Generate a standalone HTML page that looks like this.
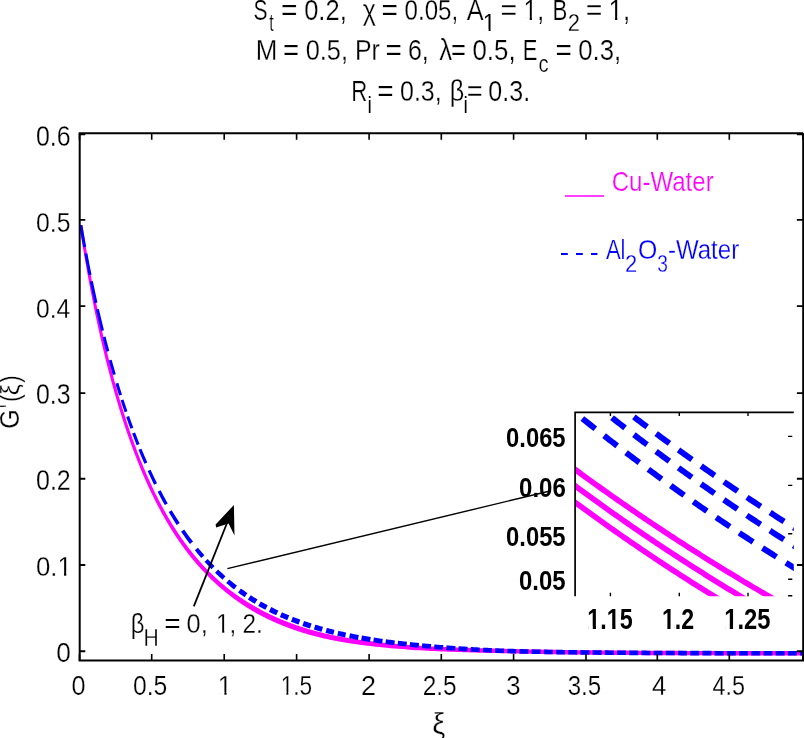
<!DOCTYPE html>
<html><head><meta charset="utf-8"><title>Chart</title>
<style>html,body{margin:0;padding:0;background:#fff;}body{width:804px;height:738px;overflow:hidden;font-family:"Liberation Sans",sans-serif;}svg{display:block;filter:blur(0.4px);}</style>
</head><body>
<svg width="804" height="738" viewBox="0 0 804 738" font-family="'Liberation Sans', sans-serif">
<rect width="804" height="738" fill="#fff"/>
<path d="M79.39,225.44 L80.35,231.64 L81.32,237.72 L82.28,243.68 L83.24,249.51 L84.21,255.24 L85.17,260.85 L86.13,266.36 L87.09,271.76 L88.06,277.07 L89.02,282.28 L89.98,287.39 L90.95,292.42 L91.91,297.35 L92.87,302.20 L93.84,306.97 L94.80,311.65 L95.76,316.26 L96.73,320.79 L97.69,325.24 L98.65,329.62 L99.62,333.94 L100.58,338.18 L101.54,342.35 L102.51,346.46 L103.47,350.50 L104.43,354.48 L105.40,358.40 L106.36,362.26 L107.32,366.06 L108.29,369.81 L109.25,373.49 L110.22,377.12 L111.18,380.70 L112.14,384.23 L113.11,387.70 L114.07,391.12 L115.03,394.49 L116.00,397.82 L116.96,401.09 L117.93,404.32 L118.89,407.50 L119.85,410.64 L120.82,413.73 L121.78,416.78 L122.74,419.79 L123.70,422.76 L124.66,425.68 L125.63,428.57 L126.59,431.41 L127.55,434.22 L128.51,436.99 L129.47,439.72 L130.43,442.41 L131.39,445.06 L132.36,447.68 L133.32,450.27 L134.28,452.82 L135.24,455.34 L136.20,457.82 L137.16,460.27 L138.13,462.69 L139.09,465.07 L140.05,467.42 L141.01,469.75 L141.97,472.04 L142.94,474.30 L143.90,476.53 L144.86,478.74 L145.82,480.91 L146.79,483.06 L147.75,485.18 L148.71,487.27 L149.68,489.33 L150.64,491.37 L151.60,493.38 L152.56,495.37 L153.53,497.33 L154.49,499.27 L155.45,501.18 L156.42,503.06 L157.38,504.93 L158.34,506.77 L159.31,508.58 L160.27,510.37 L161.24,512.14 L162.20,513.89 L163.16,515.62 L164.13,517.32 L165.09,519.00 L166.05,520.67 L167.02,522.31 L167.98,523.93 L168.94,525.53 L169.90,527.12 L170.86,528.68 L171.83,530.22 L172.79,531.74 L173.75,533.25 L174.71,534.74 L175.68,536.20 L176.64,537.65 L177.60,539.09 L178.57,540.50 L179.53,541.90 L180.49,543.28 L181.46,544.64 L182.42,545.99 L183.38,547.32 L184.35,548.63 L185.31,549.93 L186.28,551.21 L187.24,552.48 L188.21,553.73 L189.17,554.96 L190.14,556.19 L191.10,557.39 L192.07,558.58 L193.03,559.76 L194.00,560.92 L194.96,562.07 L195.93,563.21 L196.89,564.33 L197.86,565.44 L198.82,566.53 L199.79,567.61 L200.76,568.68 L201.72,569.74 L202.69,570.78 L203.65,571.81 L204.62,572.83 L205.59,573.84 L206.55,574.83 L207.52,575.81 L208.49,576.78 L209.46,577.74 L210.42,578.69 L211.39,579.63 L212.36,580.55 L213.32,581.47 L214.29,582.37 L215.26,583.27 L216.23,584.15 L217.20,585.02 L218.16,585.88 L219.13,586.74 L220.10,587.58 L221.07,588.41 L222.04,589.23 L223.00,590.05 L223.97,590.86 L224.93,591.66 L225.90,592.44 L226.86,593.23 L227.83,594.00 L228.79,594.76 L229.76,595.51 L230.73,596.26 L231.69,597.00 L232.66,597.72 L233.62,598.44 L234.59,599.16 L235.56,599.86 L236.52,600.56 L237.49,601.24 L238.46,601.92 L239.42,602.60 L240.39,603.26 L241.36,603.92 L242.32,604.57 L243.29,605.21 L244.26,605.85 L245.22,606.48 L246.19,607.10 L247.16,607.71 L248.13,608.32 L249.09,608.92 L250.06,609.51 L251.03,610.10 L252.00,610.68 L252.97,611.24 L253.95,611.80 L254.92,612.35 L255.90,612.89 L256.87,613.43 L257.85,613.96 L258.82,614.48 L259.79,615.00 L260.77,615.51 L261.74,616.02 L262.72,616.52 L263.69,617.02 L264.67,617.51 L265.64,617.99 L266.61,618.47 L267.59,618.94 L268.56,619.41 L269.54,619.87 L270.51,620.33 L271.48,620.78 L272.46,621.23 L273.43,621.67 L274.40,622.10 L275.38,622.53 L276.35,622.96 L277.32,623.38 L278.30,623.79 L279.27,624.20 L280.25,624.61 L281.22,625.01 L282.19,625.41 L283.17,625.80 L284.14,626.18 L285.11,626.57 L286.08,626.94 L287.06,627.32 L288.03,627.68 L289.00,628.05 L289.98,628.41 L290.95,628.76 L291.92,629.11 L292.90,629.46 L293.87,629.80 L294.84,630.14 L295.81,630.47 L296.79,630.80 L297.76,631.13 L298.73,631.45 L299.71,631.76 L300.68,632.08 L301.65,632.39 L302.62,632.69 L303.59,632.99 L304.57,633.29 L305.54,633.58 L306.51,633.87 L307.48,634.16 L308.46,634.44 L309.43,634.72 L310.40,634.99 L311.37,635.26 L312.35,635.52 L313.32,635.78 L314.29,636.04 L315.26,636.29 L316.24,636.54 L317.21,636.79 L318.18,637.03 L319.15,637.27 L320.13,637.51 L321.10,637.74 L322.07,637.97 L323.04,638.20 L324.01,638.42 L324.98,638.64 L325.96,638.86 L326.93,639.07 L327.90,639.28 L328.87,639.49 L329.84,639.69 L330.81,639.90 L331.78,640.09 L332.75,640.29 L333.72,640.48 L334.70,640.67 L335.67,640.86 L336.64,641.05 L337.61,641.23 L338.58,641.41 L339.55,641.58 L340.52,641.76 L341.49,641.93 L342.46,642.10 L343.43,642.27 L344.40,642.43 L345.37,642.59 L346.34,642.75 L347.31,642.91 L348.27,643.07 L349.24,643.22 L350.21,643.37 L351.18,643.52 L352.15,643.67 L353.12,643.81 L354.09,643.95 L355.06,644.09 L356.03,644.23 L356.99,644.37 L357.96,644.50 L358.93,644.64 L359.90,644.77 L360.87,644.90 L361.83,645.02 L362.80,645.15 L363.77,645.27 L364.74,645.40 L365.71,645.52 L366.67,645.64 L367.64,645.75 L368.61,645.87 L372.28,646.30 L375.96,646.70 L379.63,647.09 L383.30,647.46 L386.97,647.81 L390.64,648.15 L394.31,648.48 L397.98,648.79 L401.66,649.09 L405.33,649.37 L409.00,649.64 L412.67,649.89 L416.34,650.13 L420.00,650.35 L423.67,650.56 L427.34,650.76 L431.01,650.94 L434.67,651.12 L438.34,651.29 L442.00,651.44 L445.67,651.59 L449.33,651.73 L453.00,651.87 L456.66,651.99 L460.33,652.11 L463.99,652.23 L467.65,652.34 L471.32,652.44 L474.98,652.55 L478.64,652.64 L482.30,652.74 L485.97,652.83 L489.63,652.91 L493.29,653.00 L496.95,653.08 L500.61,653.16 L504.27,653.24 L507.93,653.32 L511.59,653.39 L515.25,653.47 L518.91,653.55 L522.57,653.63 L526.23,653.71 L529.90,653.79 L533.56,653.86 L537.22,653.94 L540.88,654.01 L544.54,654.07 L548.21,654.14 L551.87,654.20 L555.53,654.26 L559.19,654.31 L562.85,654.37 L566.51,654.42 L570.17,654.47 L573.84,654.52 L577.50,654.56 L581.16,654.60 L584.82,654.65 L588.48,654.68 L592.14,654.72 L595.80,654.76 L599.46,654.79 L603.12,654.83 L606.79,654.86 L610.45,654.89 L614.11,654.92 L617.77,654.95 L621.43,654.97 L625.09,655.00 L628.75,655.02 L632.41,655.05 L636.07,655.07 L639.73,655.09 L643.39,655.11 L647.05,655.13 L650.71,655.15 L654.37,655.17 L658.03,655.18 L661.70,655.20 L665.36,655.22 L669.02,655.23 L672.68,655.24 L676.34,655.26 L680.00,655.27 L683.66,655.28 L687.32,655.30 L690.98,655.31 L694.64,655.32 L698.30,655.33 L701.96,655.34 L705.62,655.35 L709.28,655.36 L712.94,655.37 L716.60,655.38 L720.26,655.38 L723.92,655.39 L727.58,655.40 L731.24,655.41 L734.90,655.41 L738.56,655.42 L742.22,655.43 L745.88,655.43 L749.54,655.44 L753.20,655.44 L756.86,655.45 L760.52,655.45 L764.18,655.46 L767.84,655.46 L771.50,655.47 L775.16,655.47 L778.82,655.48 L782.48,655.48 L786.14,655.48 L789.80,655.49 L793.46,655.49 L797.12,655.49 L800.79,655.50 L804.45,655.50 L804.45,651.10 L800.79,651.10 L797.13,651.09 L793.47,651.09 L789.81,651.09 L786.15,651.08 L782.49,651.08 L778.83,651.08 L775.17,651.07 L771.51,651.07 L767.85,651.06 L764.19,651.06 L760.53,651.05 L756.87,651.05 L753.21,651.04 L749.55,651.04 L745.89,651.03 L742.23,651.03 L738.57,651.02 L734.91,651.01 L731.25,651.01 L727.59,651.00 L723.93,650.99 L720.27,650.98 L716.61,650.98 L712.95,650.97 L709.29,650.96 L705.63,650.95 L701.97,650.94 L698.31,650.93 L694.65,650.92 L690.99,650.91 L687.33,650.90 L683.67,650.88 L680.01,650.87 L676.35,650.86 L672.69,650.84 L669.03,650.83 L665.37,650.82 L661.71,650.80 L658.05,650.78 L654.40,650.77 L650.74,650.75 L647.08,650.73 L643.42,650.71 L639.76,650.69 L636.10,650.67 L632.44,650.65 L628.78,650.62 L625.12,650.60 L621.46,650.57 L617.80,650.55 L614.14,650.52 L610.48,650.49 L606.82,650.46 L603.16,650.43 L599.50,650.39 L595.84,650.36 L592.19,650.32 L588.53,650.29 L584.87,650.25 L581.21,650.20 L577.55,650.16 L573.89,650.12 L570.23,650.07 L566.57,650.02 L562.91,649.97 L559.26,649.91 L555.60,649.86 L551.94,649.80 L548.28,649.74 L544.62,649.68 L540.96,649.61 L537.31,649.54 L533.65,649.47 L529.99,649.39 L526.33,649.31 L522.67,649.23 L519.01,649.15 L515.35,649.07 L511.69,648.99 L508.03,648.91 L504.37,648.82 L500.71,648.74 L497.05,648.65 L493.39,648.56 L489.74,648.47 L486.08,648.38 L482.42,648.28 L478.76,648.18 L475.10,648.08 L471.45,647.97 L467.79,647.86 L464.13,647.75 L460.48,647.63 L456.82,647.50 L453.16,647.36 L449.51,647.23 L445.85,647.08 L442.20,646.92 L438.54,646.76 L434.89,646.59 L431.24,646.41 L427.58,646.21 L423.93,646.01 L420.28,645.80 L416.63,645.57 L412.97,645.33 L409.32,645.07 L405.67,644.80 L402.03,644.51 L398.38,644.20 L394.73,643.87 L391.08,643.52 L387.43,643.16 L383.78,642.79 L380.13,642.39 L376.48,641.98 L372.84,641.55 L369.19,641.10 L368.23,640.98 L367.27,640.86 L366.31,640.73 L365.36,640.61 L364.40,640.48 L363.44,640.35 L362.48,640.22 L361.52,640.09 L360.56,639.95 L359.60,639.82 L358.65,639.68 L357.69,639.54 L356.73,639.40 L355.77,639.25 L354.81,639.11 L353.86,638.96 L352.90,638.81 L351.94,638.66 L350.98,638.50 L350.02,638.35 L349.07,638.19 L348.11,638.03 L347.15,637.87 L346.20,637.70 L345.24,637.54 L344.28,637.37 L343.32,637.20 L342.37,637.02 L341.41,636.85 L340.45,636.67 L339.50,636.49 L338.54,636.30 L337.59,636.12 L336.63,635.93 L335.67,635.74 L334.72,635.54 L333.76,635.35 L332.81,635.15 L331.85,634.94 L330.90,634.74 L329.94,634.53 L328.98,634.32 L328.03,634.11 L327.07,633.89 L326.12,633.67 L325.16,633.45 L324.21,633.22 L323.25,632.99 L322.30,632.76 L321.35,632.52 L320.39,632.28 L319.44,632.04 L318.48,631.80 L317.53,631.55 L316.57,631.30 L315.62,631.04 L314.67,630.78 L313.71,630.52 L312.76,630.25 L311.80,629.99 L310.85,629.72 L309.90,629.44 L308.94,629.17 L307.99,628.89 L307.03,628.60 L306.08,628.31 L305.12,628.02 L304.17,627.73 L303.22,627.43 L302.26,627.12 L301.31,626.82 L300.35,626.51 L299.40,626.19 L298.45,625.87 L297.49,625.55 L296.54,625.22 L295.58,624.89 L294.63,624.56 L293.68,624.22 L292.72,623.87 L291.77,623.53 L290.82,623.17 L289.86,622.82 L288.91,622.46 L287.95,622.09 L287.00,621.72 L286.05,621.35 L285.09,620.97 L284.14,620.59 L283.19,620.20 L282.24,619.81 L281.28,619.41 L280.33,619.01 L279.38,618.60 L278.42,618.19 L277.47,617.77 L276.52,617.35 L275.56,616.92 L274.61,616.49 L273.66,616.06 L272.71,615.61 L271.75,615.17 L270.80,614.72 L269.85,614.26 L268.89,613.80 L267.94,613.33 L266.99,612.86 L266.04,612.38 L265.08,611.89 L264.13,611.40 L263.18,610.91 L262.23,610.41 L261.28,609.90 L260.32,609.39 L259.37,608.87 L258.42,608.34 L257.47,607.81 L256.51,607.27 L255.56,606.73 L254.61,606.18 L253.65,605.64 L252.69,605.08 L251.73,604.53 L250.78,603.96 L249.82,603.39 L248.86,602.81 L247.90,602.23 L246.94,601.64 L245.98,601.04 L245.02,600.43 L244.06,599.82 L243.10,599.20 L242.14,598.57 L241.18,597.93 L240.22,597.29 L239.26,596.64 L238.30,595.98 L237.34,595.31 L236.38,594.64 L235.42,593.96 L234.46,593.26 L233.50,592.56 L232.54,591.86 L231.58,591.14 L230.61,590.41 L229.65,589.68 L228.69,588.93 L227.73,588.18 L226.77,587.42 L225.81,586.65 L224.85,585.87 L223.89,585.07 L222.93,584.27 L221.97,583.45 L221.01,582.63 L220.06,581.79 L219.10,580.95 L218.14,580.09 L217.18,579.23 L216.22,578.35 L215.26,577.47 L214.30,576.57 L213.34,575.66 L212.38,574.74 L211.42,573.81 L210.46,572.87 L209.50,571.91 L208.54,570.95 L207.58,569.97 L206.62,568.98 L205.66,567.98 L204.70,566.96 L203.74,565.94 L202.78,564.89 L201.82,563.84 L200.86,562.78 L199.90,561.70 L198.94,560.60 L197.98,559.49 L197.02,558.37 L196.06,557.24 L195.10,556.09 L194.13,554.93 L193.17,553.75 L192.21,552.55 L191.25,551.35 L190.29,550.12 L189.32,548.88 L188.36,547.63 L187.40,546.36 L186.44,545.07 L185.47,543.77 L184.51,542.45 L183.55,541.11 L182.58,539.76 L181.62,538.39 L180.66,537.00 L179.69,535.59 L178.73,534.17 L177.77,532.73 L176.80,531.27 L175.84,529.79 L174.88,528.29 L173.91,526.77 L172.95,525.23 L171.98,523.68 L171.02,522.10 L170.05,520.50 L169.09,518.89 L168.12,517.25 L167.16,515.59 L166.20,513.90 L165.24,512.20 L164.27,510.47 L163.31,508.72 L162.35,506.95 L161.38,505.15 L160.42,503.34 L159.46,501.49 L158.50,499.63 L157.53,497.74 L156.57,495.82 L155.61,493.88 L154.64,491.91 L153.68,489.92 L152.71,487.90 L151.75,485.86 L150.79,483.78 L149.82,481.68 L148.86,479.55 L147.90,477.40 L146.93,475.21 L145.97,473.00 L145.00,470.75 L144.04,468.48 L143.07,466.17 L142.11,463.84 L141.14,461.47 L140.18,459.07 L139.22,456.64 L138.25,454.17 L137.29,451.67 L136.32,449.14 L135.36,446.57 L134.39,443.97 L133.43,441.33 L132.46,438.65 L131.50,435.94 L130.53,433.18 L129.57,430.39 L128.60,427.57 L127.63,424.70 L126.67,421.79 L125.70,418.84 L124.74,415.84 L123.77,412.81 L122.81,409.72 L121.85,406.60 L120.89,403.43 L119.92,400.21 L118.96,396.95 L118.00,393.64 L117.04,390.28 L116.07,386.87 L115.11,383.41 L114.15,379.89 L113.18,376.33 L112.22,372.71 L111.26,369.03 L110.30,365.30 L109.33,361.51 L108.37,357.67 L107.41,353.76 L106.44,349.79 L105.48,345.76 L104.52,341.66 L103.55,337.50 L102.59,333.26 L101.63,328.96 L100.66,324.59 L99.70,320.15 L98.74,315.63 L97.78,311.03 L96.81,306.36 L95.85,301.60 L94.88,296.76 L93.92,291.84 L92.96,286.83 L91.99,281.72 L91.03,276.52 L90.07,271.23 L89.10,265.83 L88.14,260.34 L87.18,254.73 L86.21,249.02 L85.25,243.19 L84.29,237.24 L83.32,231.18 L82.36,224.98Z" fill="#ff00ff"/>
<path d="M79.40,225.61 L80.67,233.03 L81.93,240.26 L83.20,247.29 L86.16,246.76 L84.89,239.73 L83.62,232.52 L82.35,225.10Z M84.39,253.69 L85.44,259.25 L86.49,264.71 L87.54,270.06 L88.59,275.30 L91.53,274.71 L90.48,269.47 L89.43,264.13 L88.39,258.69 L87.34,253.14Z M89.90,281.68 L91.05,287.22 L92.21,292.65 L93.37,297.98 L94.52,303.21 L97.45,302.56 L96.30,297.34 L95.14,292.02 L93.99,286.60 L92.83,281.07Z M95.96,309.56 L97.23,315.07 L98.50,320.48 L99.78,325.79 L101.05,330.99 L103.96,330.27 L102.69,325.08 L101.42,319.79 L100.15,314.39 L98.88,308.89Z M102.63,337.31 L103.89,342.24 L105.14,347.08 L106.40,351.84 L109.30,351.07 L108.05,346.32 L106.79,341.49 L105.53,336.57Z M108.76,360.54 L109.79,364.23 L110.81,367.87 L111.84,371.45 L112.86,374.99 L115.74,374.15 L114.72,370.62 L113.70,367.05 L112.68,363.42 L111.65,359.74Z M115.43,383.64 L116.66,387.68 L117.90,391.67 L119.13,395.59 L121.99,394.69 L120.76,390.78 L119.53,386.80 L118.30,382.76Z M120.66,400.37 L121.97,404.39 L123.29,408.36 L124.60,412.25 L127.46,411.28 L126.15,407.40 L124.83,403.45 L123.51,399.43Z M126.22,416.99 L127.27,420.00 L128.32,422.97 L129.37,425.90 L130.42,428.79 L133.32,427.73 L132.26,424.85 L131.21,421.94 L130.15,418.98 L129.09,415.99Z M132.16,433.49 L133.29,436.48 L134.41,439.42 L135.54,442.32 L136.66,445.18 L139.58,444.03 L138.45,441.18 L137.32,438.29 L136.19,435.37 L135.06,432.40Z M138.53,449.84 L139.99,453.40 L141.44,456.89 L142.90,460.33 L144.36,463.70 L147.30,462.42 L145.84,459.06 L144.38,455.66 L142.91,452.18 L141.45,448.64Z M147.63,471.04 L148.91,473.84 L150.19,476.60 L151.48,479.32 L152.77,482.00 L154.05,484.63 L157.01,483.18 L155.72,480.56 L154.44,477.91 L153.15,475.21 L151.86,472.47 L150.57,469.68Z M157.66,491.82 L159.09,494.56 L160.51,497.26 L161.93,499.91 L163.36,502.52 L164.78,505.08 L167.75,503.42 L166.32,500.88 L164.90,498.30 L163.47,495.67 L162.05,493.00 L160.62,490.28Z M168.77,512.07 L170.34,514.73 L171.92,517.35 L173.50,519.92 L175.07,522.44 L176.65,524.91 L179.71,522.93 L178.12,520.49 L176.53,518.01 L174.94,515.49 L173.35,512.91 L171.76,510.28Z M181.09,531.63 L182.55,533.76 L184.01,535.86 L185.48,537.92 L186.94,539.95 L188.41,541.94 L189.87,543.89 L192.99,541.53 L191.52,539.61 L190.05,537.66 L188.58,535.67 L187.11,533.65 L185.64,531.60 L184.16,529.50Z M194.82,550.27 L196.11,551.86 L197.39,553.43 L198.68,554.98 L199.97,556.51 L201.26,558.00 L204.39,555.27 L203.10,553.81 L201.81,552.32 L200.52,550.82 L199.23,549.28 L197.94,547.72Z M204.60,561.80 L205.98,563.31 L207.35,564.81 L208.73,566.28 L210.11,567.73 L211.49,569.15 L214.60,566.08 L213.22,564.70 L211.85,563.29 L210.47,561.87 L209.09,560.42 L207.71,558.94Z M215.06,572.73 L216.53,574.16 L218.00,575.56 L219.47,576.95 L220.94,578.31 L222.41,579.64 L225.47,576.21 L224.00,574.92 L222.54,573.61 L221.07,572.27 L219.61,570.92 L218.14,569.53Z M226.21,582.99 L227.77,584.31 L229.33,585.62 L230.89,586.90 L232.45,588.16 L234.00,589.40 L236.97,585.58 L235.42,584.39 L233.87,583.18 L232.32,581.95 L230.77,580.70 L229.22,579.41Z M238.03,592.49 L239.33,593.46 L240.65,594.42 L241.96,595.36 L243.27,596.30 L244.58,597.21 L247.44,593.04 L246.13,592.16 L244.83,591.28 L243.53,590.37 L242.24,589.45 L240.93,588.52Z M247.94,599.50 L249.29,600.39 L250.65,601.28 L252.02,602.15 L253.39,603.00 L254.75,603.83 L257.45,599.39 L256.11,598.57 L254.77,597.74 L253.43,596.91 L252.08,596.07 L250.73,595.20Z M258.24,605.90 L259.65,606.71 L261.06,607.51 L262.48,608.30 L263.89,609.08 L265.30,609.83 L267.76,605.26 L266.37,604.51 L264.99,603.75 L263.61,602.98 L262.23,602.20 L260.84,601.40Z M268.90,611.72 L270.34,612.45 L271.79,613.18 L273.24,613.89 L274.70,614.59 L276.14,615.27 L278.37,610.58 L276.94,609.90 L275.52,609.21 L274.10,608.52 L272.68,607.81 L271.25,607.08Z M279.83,616.97 L281.30,617.63 L282.79,618.28 L284.27,618.92 L285.76,619.55 L287.23,620.17 L289.23,615.37 L287.77,614.76 L286.32,614.14 L284.86,613.52 L283.41,612.88 L281.95,612.22Z M290.99,621.69 L292.50,622.28 L294.01,622.86 L295.52,623.43 L297.03,623.99 L298.53,624.54 L300.31,619.66 L298.82,619.11 L297.34,618.56 L295.86,618.00 L294.38,617.43 L292.89,616.85Z M302.35,625.89 L303.88,626.42 L305.41,626.93 L306.94,627.44 L308.47,627.94 L310.00,628.43 L311.58,623.47 L310.07,622.99 L308.56,622.50 L307.05,622.00 L305.55,621.49 L304.04,620.98Z M313.86,629.61 L315.41,630.07 L316.96,630.53 L318.51,630.97 L320.06,631.41 L321.60,631.83 L322.99,626.87 L321.45,626.44 L319.93,626.01 L318.41,625.56 L316.88,625.11 L315.35,624.65Z M325.51,632.88 L327.06,633.28 L328.63,633.68 L330.19,634.07 L331.75,634.45 L333.31,634.83 L334.51,629.88 L332.97,629.50 L331.43,629.11 L329.89,628.72 L328.35,628.32 L326.80,627.91Z M337.24,635.74 L338.81,636.10 L340.38,636.44 L341.96,636.79 L343.53,637.12 L345.10,637.45 L346.14,632.52 L344.58,632.18 L343.03,631.85 L341.48,631.50 L339.93,631.15 L338.37,630.79Z M349.05,638.25 L350.53,638.54 L352.01,638.83 L353.49,639.11 L354.97,639.38 L356.46,639.65 L357.93,639.92 L358.83,635.02 L357.36,634.75 L355.89,634.47 L354.43,634.19 L352.96,633.91 L351.50,633.62 L350.03,633.32Z M361.11,640.47 L362.59,640.72 L364.08,640.97 L365.57,641.22 L367.06,641.46 L368.54,641.69 L370.03,641.92 L370.79,637.06 L369.32,636.82 L367.85,636.58 L366.37,636.34 L364.90,636.09 L363.43,635.84 L361.95,635.58Z M373.21,642.40 L374.70,642.62 L376.19,642.84 L377.68,643.05 L379.17,643.26 L380.66,643.46 L382.15,643.66 L382.81,638.84 L381.33,638.63 L379.85,638.42 L378.37,638.21 L376.90,637.99 L375.42,637.77 L373.94,637.55Z M385.34,644.08 L386.83,644.27 L388.33,644.46 L389.82,644.64 L391.32,644.82 L392.81,645.00 L394.30,645.17 L394.87,640.39 L393.38,640.21 L391.90,640.03 L390.42,639.84 L388.94,639.65 L387.45,639.46 L385.97,639.27Z M397.50,645.53 L398.99,645.70 L400.48,645.87 L401.98,646.03 L403.47,646.19 L404.97,646.35 L406.46,646.51 L406.97,641.75 L405.48,641.59 L403.99,641.43 L402.50,641.27 L401.01,641.10 L399.52,640.93 L398.03,640.76Z M409.65,646.84 L411.14,646.99 L412.64,647.14 L414.13,647.29 L415.63,647.44 L417.13,647.59 L418.62,647.73 L419.08,642.99 L417.59,642.84 L416.10,642.70 L414.61,642.55 L413.12,642.39 L411.63,642.24 L410.14,642.09Z M421.81,648.03 L423.31,648.17 L424.81,648.31 L426.30,648.44 L427.80,648.57 L429.30,648.70 L430.79,648.83 L431.20,644.11 L429.71,643.98 L428.22,643.84 L426.73,643.71 L425.24,643.57 L423.75,643.43 L422.26,643.29Z M433.99,649.10 L435.49,649.23 L436.98,649.35 L438.48,649.47 L439.98,649.59 L441.48,649.71 L442.97,649.82 L443.34,645.11 L441.85,645.00 L440.35,644.88 L438.86,644.76 L437.37,644.63 L435.88,644.51 L434.38,644.38Z M446.17,650.06 L447.67,650.17 L449.17,650.28 L450.67,650.39 L452.17,650.49 L453.67,650.60 L455.16,650.70 L455.49,646.01 L453.99,645.90 L452.50,645.80 L451.00,645.69 L449.51,645.58 L448.02,645.47 L446.52,645.36Z M458.37,650.91 L459.86,651.01 L461.36,651.10 L462.86,651.19 L464.36,651.29 L465.86,651.38 L467.36,651.46 L467.64,646.79 L466.15,646.70 L464.65,646.61 L463.16,646.52 L461.66,646.42 L460.17,646.32 L458.67,646.22Z M470.56,651.65 L472.06,651.73 L473.56,651.81 L475.06,651.90 L476.56,651.97 L478.06,652.05 L479.56,652.13 L479.80,647.48 L478.31,647.40 L476.81,647.32 L475.32,647.24 L473.82,647.15 L472.32,647.07 L470.83,646.98Z M482.77,652.29 L484.26,652.36 L485.77,652.43 L487.27,652.50 L488.77,652.56 L490.27,652.63 L491.77,652.69 L491.97,648.06 L490.47,647.99 L488.98,647.93 L487.48,647.86 L485.98,647.79 L484.49,647.71 L482.99,647.64Z M494.97,652.83 L496.47,652.89 L497.97,652.95 L499.47,653.00 L500.97,653.06 L502.48,653.11 L503.98,653.17 L504.14,648.55 L502.64,648.50 L501.15,648.44 L499.65,648.38 L498.15,648.32 L496.66,648.26 L495.16,648.20Z M507.18,653.27 L508.68,653.32 L510.18,653.37 L511.68,653.42 L513.18,653.46 L514.69,653.51 L516.19,653.55 L516.32,648.95 L514.82,648.91 L513.32,648.86 L511.83,648.82 L510.33,648.77 L508.83,648.72 L507.33,648.67Z M519.39,653.64 L520.89,653.68 L522.39,653.72 L523.89,653.75 L525.40,653.79 L526.90,653.82 L528.40,653.86 L528.50,649.26 L527.00,649.22 L525.50,649.19 L524.01,649.15 L522.51,649.12 L521.01,649.08 L519.51,649.04Z M531.60,653.92 L533.10,653.96 L534.60,653.99 L536.10,654.02 L537.60,654.05 L539.10,654.07 L540.60,654.10 L540.69,649.50 L539.19,649.47 L537.69,649.45 L536.19,649.42 L534.69,649.39 L533.20,649.36 L531.70,649.33Z M543.80,654.16 L545.30,654.19 L546.81,654.21 L548.31,654.24 L549.81,654.27 L551.31,654.29 L552.81,654.32 L552.88,649.72 L551.38,649.69 L549.88,649.67 L548.38,649.64 L546.89,649.62 L545.39,649.59 L543.89,649.56Z M556.01,654.37 L557.51,654.39 L559.01,654.41 L560.51,654.43 L562.01,654.46 L563.51,654.48 L565.01,654.50 L565.08,649.90 L563.58,649.88 L562.08,649.86 L560.58,649.83 L559.08,649.81 L557.58,649.79 L556.08,649.77Z M568.21,654.54 L569.71,654.56 L571.21,654.58 L572.71,654.60 L574.21,654.62 L575.71,654.64 L577.21,654.66 L577.27,650.06 L575.77,650.04 L574.27,650.02 L572.77,650.00 L571.27,649.98 L569.77,649.96 L568.27,649.94Z M580.42,654.70 L581.92,654.71 L583.42,654.73 L584.92,654.75 L586.42,654.76 L587.92,654.78 L589.42,654.79 L589.47,650.20 L587.97,650.18 L586.47,650.16 L584.97,650.15 L583.47,650.13 L581.97,650.11 L580.47,650.10Z M592.62,654.83 L594.12,654.84 L595.62,654.86 L597.12,654.87 L598.62,654.89 L600.12,654.90 L601.62,654.91 L601.66,650.31 L600.16,650.30 L598.66,650.29 L597.16,650.27 L595.66,650.26 L594.16,650.24 L592.66,650.23Z M604.82,654.94 L606.32,654.95 L607.82,654.97 L609.32,654.98 L610.82,654.99 L612.32,655.00 L613.82,655.02 L613.86,650.42 L612.36,650.40 L610.86,650.39 L609.36,650.38 L607.86,650.37 L606.36,650.35 L604.86,650.34Z M617.02,655.04 L618.52,655.05 L620.02,655.06 L621.52,655.07 L623.02,655.08 L624.52,655.09 L626.02,655.10 L626.06,650.50 L624.56,650.49 L623.06,650.48 L621.56,650.47 L620.06,650.46 L618.56,650.45 L617.06,650.44Z M629.23,655.13 L630.73,655.13 L632.23,655.14 L633.73,655.15 L635.23,655.16 L636.73,655.17 L638.23,655.18 L638.25,650.58 L636.75,650.57 L635.25,650.56 L633.75,650.55 L632.25,650.54 L630.75,650.54 L629.25,650.53Z M641.43,655.20 L642.93,655.21 L644.43,655.22 L645.93,655.22 L647.43,655.23 L648.93,655.24 L650.43,655.25 L650.45,650.65 L648.95,650.64 L647.45,650.63 L645.95,650.62 L644.45,650.62 L642.95,650.61 L641.45,650.60Z M653.63,655.26 L655.13,655.27 L656.63,655.28 L658.13,655.28 L659.63,655.29 L661.13,655.30 L662.63,655.30 L662.65,650.70 L661.15,650.70 L659.65,650.69 L658.15,650.68 L656.65,650.68 L655.15,650.67 L653.65,650.66Z M665.83,655.32 L667.33,655.32 L668.83,655.33 L670.33,655.34 L671.83,655.34 L673.33,655.35 L674.83,655.35 L674.85,650.75 L673.35,650.75 L671.85,650.74 L670.35,650.74 L668.85,650.73 L667.35,650.72 L665.85,650.72Z M678.03,655.36 L679.53,655.37 L681.03,655.38 L682.53,655.38 L684.03,655.39 L685.53,655.39 L687.03,655.40 L687.05,650.80 L685.55,650.79 L684.05,650.79 L682.55,650.78 L681.05,650.78 L679.55,650.77 L678.05,650.76Z M690.23,655.41 L691.73,655.41 L693.23,655.42 L694.73,655.42 L696.23,655.42 L697.73,655.43 L699.23,655.43 L699.25,650.83 L697.75,650.83 L696.25,650.82 L694.75,650.82 L693.25,650.82 L691.75,650.81 L690.25,650.81Z M702.43,655.44 L703.93,655.45 L705.43,655.45 L706.93,655.45 L708.43,655.46 L709.93,655.46 L711.43,655.46 L711.44,650.86 L709.94,650.86 L708.45,650.86 L706.95,650.85 L705.45,650.85 L703.95,650.85 L702.45,650.84Z M714.63,655.47 L716.13,655.48 L717.63,655.48 L719.13,655.48 L720.63,655.49 L722.13,655.49 L723.63,655.49 L723.64,650.89 L722.14,650.89 L720.64,650.89 L719.14,650.88 L717.64,650.88 L716.14,650.88 L714.64,650.87Z M726.83,655.50 L728.33,655.50 L729.83,655.50 L731.33,655.51 L732.83,655.51 L734.33,655.51 L735.83,655.52 L735.84,650.92 L734.34,650.91 L732.84,650.91 L731.34,650.91 L729.84,650.90 L728.34,650.90 L726.84,650.90Z M739.04,655.52 L740.54,655.52 L742.04,655.53 L743.54,655.53 L745.04,655.53 L746.54,655.53 L748.04,655.54 L748.04,650.94 L746.54,650.93 L745.04,650.93 L743.54,650.93 L742.04,650.93 L740.54,650.92 L739.04,650.92Z M751.24,655.54 L752.74,655.54 L754.24,655.55 L755.74,655.55 L757.24,655.55 L758.74,655.55 L760.24,655.55 L760.24,650.95 L758.74,650.95 L757.24,650.95 L755.74,650.95 L754.24,650.95 L752.74,650.94 L751.24,650.94Z M763.44,655.56 L764.94,655.56 L766.44,655.56 L767.94,655.56 L769.44,655.57 L770.94,655.57 L772.44,655.57 L772.44,650.97 L770.94,650.97 L769.44,650.97 L767.94,650.96 L766.44,650.96 L764.94,650.96 L763.44,650.96Z M775.64,655.57 L777.14,655.57 L778.64,655.58 L780.14,655.58 L781.64,655.58 L783.14,655.58 L784.64,655.58 L784.64,650.98 L783.14,650.98 L781.64,650.98 L780.14,650.98 L778.64,650.98 L777.14,650.97 L775.64,650.97Z M787.84,655.59 L789.34,655.59 L790.84,655.59 L792.34,655.59 L793.84,655.59 L795.34,655.59 L796.84,655.59 L796.84,650.99 L795.34,650.99 L793.84,650.99 L792.34,650.99 L790.84,650.99 L789.34,650.99 L787.84,650.99Z M800.04,655.60 L801.14,655.60 L802.24,655.60 L803.34,655.60 L804.45,655.60 L804.45,651.00 L803.35,651.00 L802.24,651.00 L801.14,651.00 L800.04,651.00Z" fill="#0000ff"/>
<g stroke="#000" fill="none">
<path d="M79.7,660.6 L79.7,133.2 L803.2,133.2" stroke-width="2"/>
<path d="M78.7,660.6 L804,660.6" stroke-width="2"/>
<path d="M803.2,133.2 L803.2,660.6" stroke-width="2"/>
<path d="M79.50,660.6 v-6.5 M79.50,133.2 v6.5 M151.70,660.6 v-6.5 M151.70,133.2 v6.5 M224.20,660.6 v-6.5 M224.20,133.2 v6.5 M296.60,660.6 v-6.5 M296.60,133.2 v6.5 M369.10,660.6 v-6.5 M369.10,133.2 v6.5 M441.30,660.6 v-6.5 M441.30,133.2 v6.5 M513.60,660.6 v-6.5 M513.60,133.2 v6.5 M586.00,660.6 v-6.5 M586.00,133.2 v6.5 M657.30,660.6 v-6.5 M657.30,133.2 v6.5 M729.30,660.6 v-6.5 M729.30,133.2 v6.5 M802.80,660.6 v-6.5 M802.80,133.2 v6.5" stroke-width="1.6"/>
<path d="M79.7,134.30 h5.6 M803.2,134.30 h-6.3 M79.7,219.90 h5.6 M803.2,219.90 h-6.3 M79.7,306.10 h5.6 M803.2,306.10 h-6.3 M79.7,393.10 h5.6 M803.2,393.10 h-6.3 M79.7,478.80 h5.6 M803.2,478.80 h-6.3 M79.7,565.00 h5.6 M803.2,565.00 h-6.3 M79.7,651.30 h5.6 M803.2,651.30 h-6.3" stroke-width="1.9"/>
</g>
<text transform="translate(36.00,145.90) scale(0.8894,1.0204)" font-size="28" font-weight="normal" fill="#000" stroke="#fff" stroke-width="0.25">0.6</text>
<text transform="translate(36.01,232.00) scale(0.8860,1.0204)" font-size="28" font-weight="normal" fill="#000" stroke="#fff" stroke-width="0.25">0.5</text>
<text transform="translate(36.02,318.10) scale(0.8793,1.0204)" font-size="28" font-weight="normal" fill="#000" stroke="#fff" stroke-width="0.25">0.4</text>
<text transform="translate(36.00,404.20) scale(0.8894,1.0204)" font-size="28" font-weight="normal" fill="#000" stroke="#fff" stroke-width="0.25">0.3</text>
<text transform="translate(36.00,490.30) scale(0.8929,1.0204)" font-size="28" font-weight="normal" fill="#000" stroke="#fff" stroke-width="0.25">0.2</text>
<g transform="translate(35.97,576.40) scale(0.9220,1.0204)">
<text font-size="28" font-weight="normal" fill="#000" stroke="#fff" stroke-width="0.25">0.1</text>
<path d="M24.89,-2.28 H30.42 V0.56 H24.89 Z M32.87,-2.28 H38.12 V0.56 H32.87 Z" fill="#fff"/>
</g>
<text transform="translate(56.25,661.60) scale(0.9398,0.9898)" font-size="28" font-weight="normal" fill="#000" stroke="#fff" stroke-width="0.25">0</text>
<text transform="translate(71.59,694.60) scale(0.9023,0.9898)" font-size="28" font-weight="normal" fill="#000" stroke="#fff" stroke-width="0.25">0</text>
<text transform="translate(133.01,694.60) scale(0.8833,0.9898)" font-size="28" font-weight="normal" fill="#000" stroke="#fff" stroke-width="0.25">0.5</text>
<g transform="translate(217.86,694.60) scale(0.9184,1.0041)">
<text font-size="28" font-weight="normal" fill="#000" stroke="#fff" stroke-width="0.25">1</text>
<path d="M1.54,-2.28 H7.07 V0.56 H1.54 Z M9.52,-2.28 H14.77 V0.56 H9.52 Z" fill="#fff"/>
</g>
<g transform="translate(280.65,694.60) scale(0.8082,1.0041)">
<text font-size="28" font-weight="normal" fill="#000" stroke="#fff" stroke-width="0.25">1.5</text>
<path d="M1.54,-2.28 H7.07 V0.56 H1.54 Z M9.52,-2.28 H14.77 V0.56 H9.52 Z" fill="#fff"/>
</g>
<text transform="translate(360.95,694.60) scale(0.9655,0.9898)" font-size="28" font-weight="normal" fill="#000" stroke="#fff" stroke-width="0.25">2</text>
<text transform="translate(422.68,694.60) scale(0.8709,0.9898)" font-size="28" font-weight="normal" fill="#000" stroke="#fff" stroke-width="0.25">2.5</text>
<text transform="translate(506.37,694.60) scale(0.9195,0.9898)" font-size="28" font-weight="normal" fill="#000" stroke="#fff" stroke-width="0.25">3</text>
<text transform="translate(567.74,694.60) scale(0.8588,0.9898)" font-size="28" font-weight="normal" fill="#000" stroke="#fff" stroke-width="0.25">3.5</text>
<text transform="translate(651.96,694.60) scale(0.9214,1.0041)" font-size="28" font-weight="normal" fill="#000" stroke="#fff" stroke-width="0.25">4</text>
<text transform="translate(712.42,694.60) scale(0.8356,1.0041)" font-size="28" font-weight="normal" fill="#000" stroke="#fff" stroke-width="0.25">4.5</text>
<text transform="translate(432.14,733.60) scale(1.0390,1.0690)" font-size="28" font-weight="normal" fill="#000" stroke="#fff" stroke-width="0.25">ξ</text>
<text transform="translate(253.45,19.70) scale(0.7256,1.0000)" font-size="29" font-weight="normal" fill="#000" stroke="#fff" stroke-width="0.25">S</text>
<text transform="translate(269.26,31.20) scale(0.6842,1.0000)" font-size="23.5" font-weight="normal" fill="#000" stroke="#fff" stroke-width="0.25">t</text>
<text transform="translate(280.89,19.70) scale(0.9740,1.0000)" font-size="29" font-weight="normal" fill="#000" stroke="#fff" stroke-width="0.25">=</text>
<text transform="translate(304.18,19.70) scale(0.8800,1.0000)" font-size="29" font-weight="normal" fill="#000" stroke="#fff" stroke-width="0.25">0.2,</text>
<text transform="translate(362.85,20.20) scale(0.8621,1.0000)" font-size="29" font-weight="normal" fill="#000" stroke="#fff" stroke-width="0.25">χ</text>
<text transform="translate(381.59,19.70) scale(0.9740,1.0000)" font-size="29" font-weight="normal" fill="#000" stroke="#fff" stroke-width="0.25">=</text>
<text transform="translate(404.54,19.70) scale(0.8312,1.0000)" font-size="29" font-weight="normal" fill="#000" stroke="#fff" stroke-width="0.25">0.05,</text>
<text transform="translate(466.67,19.70) scale(0.8725,1.0000)" font-size="29" font-weight="normal" fill="#000" stroke="#fff" stroke-width="0.25">A</text>
<g transform="translate(482.83,31.00) scale(0.9726,1.0000)">
<text font-size="23.5" font-weight="normal" fill="#000">1</text>
<path d="M1.29,-1.92 H5.93 V0.47 H1.29 Z M7.99,-1.92 H12.40 V0.47 H7.99 Z" fill="#fff"/>
</g>
<text transform="translate(500.58,19.70) scale(0.9812,1.0000)" font-size="29" font-weight="normal" fill="#000" stroke="#fff" stroke-width="0.25">=</text>
<g transform="translate(523.43,19.70) scale(0.8594,1.0000)">
<text font-size="29" font-weight="normal" fill="#000" stroke="#fff" stroke-width="0.25">1,</text>
<path d="M1.59,-2.36 H7.32 V0.58 H1.59 Z M9.86,-2.36 H15.30 V0.58 H9.86 Z" fill="#fff"/>
</g>
<text transform="translate(552.62,19.70) scale(0.7670,1.0000)" font-size="29" font-weight="normal" fill="#000" stroke="#fff" stroke-width="0.25">B</text>
<text transform="translate(567.70,31.00) scale(0.9352,1.0000)" font-size="23.5" font-weight="normal" fill="#000" stroke="#fff" stroke-width="0.25">2</text>
<text transform="translate(585.78,19.70) scale(0.9812,1.0000)" font-size="29" font-weight="normal" fill="#000" stroke="#fff" stroke-width="0.25">=</text>
<g transform="translate(608.54,19.70) scale(0.8912,1.0000)">
<text font-size="29" font-weight="normal" fill="#000" stroke="#fff" stroke-width="0.25">1,</text>
<path d="M1.59,-2.36 H7.32 V0.58 H1.59 Z M9.86,-2.36 H15.30 V0.58 H9.86 Z" fill="#fff"/>
</g>
<text transform="translate(255.82,60.40) scale(0.8955,1.0000)" font-size="29" font-weight="normal" fill="#000" stroke="#fff" stroke-width="0.25">M</text>
<text transform="translate(282.92,60.40) scale(0.9527,1.0000)" font-size="29" font-weight="normal" fill="#000" stroke="#fff" stroke-width="0.25">=</text>
<text transform="translate(305.69,60.40) scale(0.8733,1.0000)" font-size="29" font-weight="normal" fill="#000" stroke="#fff" stroke-width="0.25">0.5,</text>
<text transform="translate(354.91,60.40) scale(0.8582,1.0000)" font-size="29" font-weight="normal" fill="#000" stroke="#fff" stroke-width="0.25">Pr</text>
<text transform="translate(385.40,60.40) scale(0.9669,1.0000)" font-size="29" font-weight="normal" fill="#000" stroke="#fff" stroke-width="0.25">=</text>
<text transform="translate(407.95,60.40) scale(0.8633,1.0000)" font-size="29" font-weight="normal" fill="#000" stroke="#fff" stroke-width="0.25">6,</text>
<text transform="translate(439.24,60.40) scale(0.8908,1.0000)" font-size="29" font-weight="normal" fill="#000" stroke="#fff" stroke-width="0.25">λ</text>
<text transform="translate(451.12,60.40) scale(0.8816,1.0000)" font-size="29" font-weight="normal" fill="#000" stroke="#fff" stroke-width="0.25">=</text>
<text transform="translate(472.47,60.40) scale(0.8912,1.0000)" font-size="29" font-weight="normal" fill="#000" stroke="#fff" stroke-width="0.25">0.5,</text>
<text transform="translate(522.74,60.40) scale(0.7593,1.0000)" font-size="29" font-weight="normal" fill="#000" stroke="#fff" stroke-width="0.25">E</text>
<text transform="translate(538.59,71.60) scale(0.8610,1.0000)" font-size="23.5" font-weight="normal" fill="#000" stroke="#fff" stroke-width="0.25">c</text>
<text transform="translate(555.50,60.40) scale(0.9669,1.0000)" font-size="29" font-weight="normal" fill="#000" stroke="#fff" stroke-width="0.25">=</text>
<text transform="translate(578.27,60.40) scale(0.8889,1.0000)" font-size="29" font-weight="normal" fill="#000" stroke="#fff" stroke-width="0.25">0.3,</text>
<text transform="translate(351.13,100.90) scale(0.7650,1.0000)" font-size="29" font-weight="normal" fill="#000" stroke="#fff" stroke-width="0.25">R</text>
<text transform="translate(367.16,112.50) scale(0.9456,1.0000)" font-size="23.5" font-weight="normal" fill="#000" stroke="#fff" stroke-width="0.25">i</text>
<text transform="translate(377.20,100.90) scale(0.9669,1.0000)" font-size="29" font-weight="normal" fill="#000" stroke="#fff" stroke-width="0.25">=</text>
<text transform="translate(400.00,100.90) scale(0.8621,1.0000)" font-size="29" font-weight="normal" fill="#000" stroke="#fff" stroke-width="0.25">0.3,</text>
<text transform="translate(449.64,100.90) scale(0.8676,1.0000)" font-size="29" font-weight="normal" fill="#000" stroke="#fff" stroke-width="0.25">β</text>
<text transform="translate(463.36,112.50) scale(0.9456,1.0000)" font-size="23.5" font-weight="normal" fill="#000" stroke="#fff" stroke-width="0.25">i</text>
<text transform="translate(466.74,100.90) scale(0.9385,1.0000)" font-size="29" font-weight="normal" fill="#000" stroke="#fff" stroke-width="0.25">=</text>
<text transform="translate(488.30,100.90) scale(0.8649,1.0000)" font-size="29" font-weight="normal" fill="#000" stroke="#fff" stroke-width="0.25">0.3.</text>
<path d="M565,196 H604" stroke="#ff00ff" stroke-width="1.6"/>
<text transform="translate(611.70,190.50) scale(0.8589,0.9949)" font-size="28" font-weight="normal" fill="#ff00ff" stroke="#fff" stroke-width="0.25">Cu-Water</text>
<path d="M561,254 h6.8 M576,254 h6.8 M591,254 h6.4" stroke="#0000ff" stroke-width="1.8"/>
<text transform="translate(605.89,259.40) scale(0.7888,0.9704)" font-size="28" font-weight="normal" fill="#0000ff" stroke="#fff" stroke-width="0.25">Al</text>
<text transform="translate(624.90,271.70) scale(0.9352,1.0000)" font-size="23.5" font-weight="normal" fill="#0000ff" stroke="#fff" stroke-width="0.25">2</text>
<text transform="translate(637.88,259.40) scale(0.8863,1.0051)" font-size="28" font-weight="normal" fill="#0000ff" stroke="#fff" stroke-width="0.25">O</text>
<text transform="translate(657.23,271.70) scale(0.8148,1.0000)" font-size="23.5" font-weight="normal" fill="#0000ff" stroke="#fff" stroke-width="0.25">3</text>
<text transform="translate(667.92,259.40) scale(0.8596,1.0197)" font-size="28" font-weight="normal" fill="#0000ff" stroke="#fff" stroke-width="0.25">-Water</text>
<path d="M193.8,606.4 L231,513" stroke="#000" stroke-width="1.8" fill="none"/>
<path d="M233.9,505 L234.5,535.6 L228.6,523.6 L216.1,527.6 L215.6,524.4 Z" fill="#000"/>
<path d="M227.4,568.6 L549,491.2" stroke="#000" stroke-width="1.4" fill="none"/>
<text transform="translate(130.63,633.30) scale(0.8525,1.0000)" font-size="28" font-weight="normal" fill="#000" stroke="#fff" stroke-width="0.25">β</text>
<text transform="translate(143.51,645.50) scale(0.9161,1.0000)" font-size="23" font-weight="normal" fill="#000" stroke="#fff" stroke-width="0.25">H</text>
<text transform="translate(164.30,633.30) scale(1.0015,1.0000)" font-size="28" font-weight="normal" fill="#000" stroke="#fff" stroke-width="0.25">=</text>
<text transform="translate(186.58,633.30) scale(0.9068,1.0000)" font-size="28" font-weight="normal" fill="#000" stroke="#fff" stroke-width="0.25">0,</text>
<g transform="translate(216.12,633.30) scale(0.8571,1.0000)">
<text font-size="28" font-weight="normal" fill="#000" stroke="#fff" stroke-width="0.25">1,</text>
<path d="M1.54,-2.28 H7.07 V0.56 H1.54 Z M9.52,-2.28 H14.77 V0.56 H9.52 Z" fill="#fff"/>
</g>
<text transform="translate(242.58,633.30) scale(0.8696,1.0000)" font-size="28" font-weight="normal" fill="#000" stroke="#fff" stroke-width="0.25">2.</text>
<g transform="translate(18.8,427.5) rotate(-90)">
<text transform="translate(-1.24,0.00) scale(0.8888,1.0000)" font-size="28" font-weight="normal" fill="#000" stroke="#fff" stroke-width="0.25">G</text>
<text transform="translate(19.40,0.00) scale(0.7143,1.0000)" font-size="28" font-weight="normal" fill="#000" stroke="#fff" stroke-width="0.25">'</text>
<text transform="translate(25.52,0.00) scale(0.8221,1.0000)" font-size="28" font-weight="normal" fill="#000" stroke="#fff" stroke-width="0.25">(</text>
<text transform="translate(32.21,0.00) scale(0.9870,1.0000)" font-size="25" font-weight="normal" fill="#000" stroke="#fff" stroke-width="0.25">ξ</text>
<text transform="translate(44.47,0.00) scale(0.8379,1.0000)" font-size="28" font-weight="normal" fill="#000" stroke="#fff" stroke-width="0.25">)</text>
</g>
<clipPath id="ic"><rect x="575.1" y="412.4" width="218.69999999999993" height="183.80000000000007"/></clipPath>
<g clip-path="url(#ic)" fill="none">
<path d="M560.00,491.08 L562.42,492.91 L564.85,494.72 L567.27,496.54 L569.70,498.34 L572.12,500.15 L574.55,501.94 L576.97,503.73 L579.39,505.52 L581.82,507.30 L584.24,509.07 L586.67,510.84 L589.09,512.60 L591.52,514.35 L593.94,516.11 L596.36,517.85 L598.79,519.59 L601.21,521.33 L603.64,523.05 L606.06,524.78 L608.48,526.50 L610.91,528.21 L613.33,529.91 L615.76,531.62 L618.18,533.31 L620.61,535.00 L623.03,536.69 L625.45,538.37 L627.88,540.04 L630.30,541.71 L632.73,543.38 L635.15,545.04 L637.58,546.69 L640.00,548.34 L642.42,549.98 L644.85,551.62 L647.27,553.25 L649.70,554.88 L652.12,556.50 L654.55,558.12 L656.97,559.73 L659.39,561.34 L661.82,562.94 L664.24,564.54 L666.67,566.13 L669.09,567.72 L671.52,569.30 L673.94,570.88 L676.36,572.45 L678.79,574.02 L681.21,575.58 L683.64,577.14 L686.06,578.69 L688.48,580.23 L690.91,581.78 L693.33,583.31 L695.76,584.85 L698.18,586.37 L700.61,587.90 L703.03,589.42 L705.45,590.93 L707.88,592.44 L710.30,593.94 L712.73,595.44 L715.15,596.93 L717.58,598.42 L720.00,599.91 L722.42,601.39 L724.85,602.86 L727.27,604.33 L729.70,605.80 L732.12,607.26 L734.55,608.72 L736.97,610.17 L739.39,611.62 L741.82,613.06 L744.24,614.50 L746.67,615.93 L749.09,617.36 L751.52,618.79 L753.94,620.21 L756.36,621.62 L758.79,623.03 L761.21,624.44 L763.64,625.84 L766.06,627.24 L768.48,628.64 L770.91,630.02 L773.33,631.41 L775.76,632.79 L778.18,634.17 L780.61,635.54 L783.03,636.90 L785.45,638.27 L787.88,639.63 L790.30,640.98 L792.73,642.33 L795.15,643.68 L797.58,645.02 L800.00,646.35" stroke="#ff00ff" stroke-width="5.6"/>
<path d="M560.00,474.47 L562.42,476.30 L564.85,478.12 L567.27,479.94 L569.70,481.75 L572.12,483.55 L574.55,485.35 L576.97,487.15 L579.39,488.94 L581.82,490.72 L584.24,492.50 L586.67,494.27 L589.09,496.04 L591.52,497.80 L593.94,499.56 L596.36,501.31 L598.79,503.06 L601.21,504.80 L603.64,506.53 L606.06,508.26 L608.48,509.98 L610.91,511.70 L613.33,513.42 L615.76,515.13 L618.18,516.83 L620.61,518.53 L623.03,520.22 L625.45,521.91 L627.88,523.59 L630.30,525.27 L632.73,526.94 L635.15,528.60 L637.58,530.27 L640.00,531.92 L642.42,533.57 L644.85,535.22 L647.27,536.86 L649.70,538.50 L652.12,540.13 L654.55,541.75 L656.97,543.37 L659.39,544.99 L661.82,546.60 L664.24,548.21 L666.67,549.81 L669.09,551.40 L671.52,553.00 L673.94,554.58 L676.36,556.16 L678.79,557.74 L681.21,559.31 L683.64,560.88 L686.06,562.44 L688.48,564.00 L690.91,565.55 L693.33,567.10 L695.76,568.64 L698.18,570.18 L700.61,571.71 L703.03,573.24 L705.45,574.76 L707.88,576.28 L710.30,577.80 L712.73,579.31 L715.15,580.81 L717.58,582.31 L720.00,583.81 L722.42,585.30 L724.85,586.79 L727.27,588.27 L729.70,589.75 L732.12,591.22 L734.55,592.69 L736.97,594.15 L739.39,595.61 L741.82,597.07 L744.24,598.52 L746.67,599.96 L749.09,601.40 L751.52,602.84 L753.94,604.27 L756.36,605.70 L758.79,607.12 L761.21,608.54 L763.64,609.96 L766.06,611.37 L768.48,612.78 L770.91,614.18 L773.33,615.58 L775.76,616.97 L778.18,618.36 L780.61,619.74 L783.03,621.12 L785.45,622.50 L787.88,623.87 L790.30,625.24 L792.73,626.60 L795.15,627.96 L797.58,629.32 L800.00,630.67" stroke="#ff00ff" stroke-width="5.6"/>
<path d="M560.00,458.26 L562.42,460.07 L564.85,461.88 L567.27,463.68 L569.70,465.48 L572.12,467.27 L574.55,469.06 L576.97,470.84 L579.39,472.62 L581.82,474.39 L584.24,476.15 L586.67,477.92 L589.09,479.67 L591.52,481.42 L593.94,483.16 L596.36,484.90 L598.79,486.64 L601.21,488.37 L603.64,490.09 L606.06,491.81 L608.48,493.52 L610.91,495.23 L613.33,496.94 L615.76,498.64 L618.18,500.33 L620.61,502.02 L623.03,503.70 L625.45,505.38 L627.88,507.05 L630.30,508.72 L632.73,510.38 L635.15,512.04 L637.58,513.70 L640.00,515.34 L642.42,516.99 L644.85,518.63 L647.27,520.26 L649.70,521.89 L652.12,523.51 L654.55,525.13 L656.97,526.75 L659.39,528.36 L661.82,529.96 L664.24,531.56 L666.67,533.16 L669.09,534.75 L671.52,536.33 L673.94,537.92 L676.36,539.49 L678.79,541.06 L681.21,542.63 L683.64,544.19 L686.06,545.75 L688.48,547.30 L690.91,548.85 L693.33,550.40 L695.76,551.94 L698.18,553.47 L700.61,555.00 L703.03,556.53 L705.45,558.05 L707.88,559.56 L710.30,561.08 L712.73,562.58 L715.15,564.09 L717.58,565.59 L720.00,567.08 L722.42,568.57 L724.85,570.05 L727.27,571.54 L729.70,573.01 L732.12,574.48 L734.55,575.95 L736.97,577.41 L739.39,578.87 L741.82,580.33 L744.24,581.78 L746.67,583.22 L749.09,584.67 L751.52,586.10 L753.94,587.54 L756.36,588.96 L758.79,590.39 L761.21,591.81 L763.64,593.23 L766.06,594.64 L768.48,596.04 L770.91,597.45 L773.33,598.85 L775.76,600.24 L778.18,601.63 L780.61,603.02 L783.03,604.40 L785.45,605.78 L787.88,607.16 L790.30,608.53 L792.73,609.89 L795.15,611.25 L797.58,612.61 L800.00,613.97" stroke="#ff00ff" stroke-width="5.6"/>
<path d="M540.00,383.60 L541.73,385.06 L543.47,386.53 L545.20,387.98 L546.94,389.44 L548.68,390.90 L550.42,392.35 L552.16,393.80 M560.82,400.98 L562.64,402.47 L564.46,403.97 L566.29,405.46 L568.11,406.95 L569.94,408.44 L571.77,409.93 L573.60,411.42 M582.35,418.48 L584.19,419.95 L586.04,421.42 L587.88,422.89 L589.72,424.36 L591.57,425.83 L593.42,427.29 L595.27,428.75 M604.11,435.70 L605.97,437.15 L607.83,438.60 L609.70,440.04 L611.56,441.48 L613.42,442.93 L615.29,444.37 L617.16,445.80 M626.10,452.63 L627.98,454.06 L629.86,455.48 L631.74,456.90 L633.62,458.32 L635.50,459.74 L637.39,461.15 L639.28,462.56 M648.30,469.28 L650.20,470.68 L652.10,472.07 L654.00,473.47 L655.90,474.86 L657.80,476.26 L659.70,477.65 L661.61,479.03 M670.73,485.62 L672.64,487.00 L674.56,488.37 L676.47,489.74 L678.39,491.11 L680.31,492.48 L682.24,493.84 L684.16,495.20 M693.36,501.68 L695.29,503.03 L697.23,504.37 L699.16,505.72 L701.10,507.06 L703.04,508.40 L704.98,509.74 L706.92,511.08 M716.21,517.43 L718.16,518.75 L720.11,520.07 L722.06,521.39 L724.02,522.71 L725.97,524.03 L727.93,525.34 L729.89,526.65 M739.26,532.88 L741.23,534.17 L743.20,535.47 L745.17,536.76 L747.14,538.06 L749.11,539.35 L751.09,540.63 L753.06,541.92 M762.51,548.02 L764.50,549.29 L766.48,550.56 L768.47,551.83 L770.46,553.10 L772.45,554.36 L774.44,555.62 L776.43,556.88 M785.96,562.86 L787.96,564.10 L789.97,565.35 L791.97,566.59 L793.97,567.83 L795.98,569.07 L797.99,570.30 L800.00,571.53 M809.60,577.39 L811.62,578.61 L813.64,579.83 L815.66,581.04 L817.68,582.25 L819.70,583.47 L821.73,584.67 L823.75,585.88" stroke="#0000ff" stroke-width="5.9"/>
<path d="M568.78,382.89 L570.60,384.39 L572.42,385.89 L574.24,387.39 L576.06,388.88 L577.89,390.38 L579.71,391.87 L581.54,393.36 M590.28,400.44 L592.12,401.92 L593.96,403.39 L595.79,404.87 L597.64,406.34 L599.48,407.81 L601.32,409.28 L603.17,410.74 M612.00,417.71 L613.86,419.16 L615.71,420.62 L617.57,422.07 L619.43,423.51 L621.29,424.96 L623.15,426.40 L625.02,427.85 M633.94,434.70 L635.81,436.13 L637.69,437.56 L639.56,438.99 L641.44,440.41 L643.32,441.83 L645.20,443.25 L647.09,444.67 M656.09,451.41 L657.99,452.82 L659.88,454.22 L661.77,455.62 L663.67,457.02 L665.57,458.42 L667.47,459.82 L669.37,461.21 M678.46,467.83 L680.37,469.21 L682.28,470.59 L684.20,471.97 L686.11,473.35 L688.03,474.72 L689.95,476.09 L691.86,477.46 M701.04,483.97 L702.97,485.32 L704.90,486.68 L706.83,488.03 L708.76,489.38 L710.69,490.73 L712.63,492.07 L714.57,493.42 M723.83,499.80 L725.77,501.14 L727.72,502.47 L729.67,503.79 L731.62,505.12 L733.57,506.44 L735.52,507.76 L737.47,509.08 M746.81,515.35 L748.78,516.66 L750.74,517.96 L752.70,519.26 L754.67,520.56 L756.64,521.86 L758.61,523.16 L760.58,524.45 M770.00,530.60 L771.98,531.88 L773.96,533.16 L775.94,534.43 L777.92,535.71 L779.91,536.98 L781.89,538.25 L783.88,539.52 M793.38,545.55 L795.37,546.80 L797.37,548.05 L799.37,549.31 L801.37,550.56 L803.37,551.80 L805.37,553.05 L807.37,554.29 M816.95,560.19 L818.81,561.33 L820.67,562.47 L822.54,563.60 L824.40,564.74 L826.27,565.87 L828.13,567.00 L830.00,568.13" stroke="#0000ff" stroke-width="5.9"/>
<path d="M590.13,382.85 L591.98,384.32 L593.82,385.78 L595.67,387.25 L597.51,388.72 L599.36,390.18 L601.21,391.64 L603.06,393.10 M611.92,400.03 L613.78,401.48 L615.64,402.92 L617.51,404.37 L619.37,405.81 L621.24,407.25 L623.11,408.69 L624.98,410.12 M633.92,416.95 L635.80,418.37 L637.68,419.79 L639.56,421.21 L641.44,422.63 L643.33,424.05 L645.21,425.46 L647.10,426.87 M656.13,433.59 L658.02,434.99 L659.92,436.39 L661.82,437.78 L663.72,439.18 L665.62,440.57 L667.52,441.96 L669.43,443.35 M678.54,449.95 L680.45,451.33 L682.37,452.70 L684.28,454.07 L686.20,455.45 L688.12,456.81 L690.04,458.18 L691.96,459.55 M701.15,466.03 L703.08,467.39 L705.02,468.74 L706.95,470.09 L708.88,471.43 L710.82,472.78 L712.76,474.12 L714.69,475.46 M723.97,481.83 L725.91,483.16 L727.86,484.49 L729.81,485.81 L731.76,487.13 L733.72,488.45 L735.67,489.77 L737.62,491.09 M746.98,497.34 L748.94,498.65 L750.90,499.95 L752.87,501.25 L754.84,502.55 L756.80,503.85 L758.78,505.14 L760.75,506.43 M770.17,512.57 L772.15,513.85 L774.13,515.13 L776.12,516.41 L778.10,517.68 L780.08,518.95 L782.07,520.22 L784.06,521.49 M793.56,527.51 L795.56,528.76 L797.55,530.02 L799.55,531.27 L801.55,532.52 L803.55,533.77 L805.55,535.01 L807.55,536.25 M817.13,542.16 L818.97,543.28 L820.80,544.40 L822.64,545.52 L824.48,546.64 L826.32,547.76 L828.16,548.87 L830.00,549.99" stroke="#0000ff" stroke-width="5.9"/>
</g>
<path d="M575.1,596.2 L575.1,412.4 L793.8,412.4" stroke="#000" stroke-width="1.7" fill="none"/>
<path d="M610.4,412.4 v3.5 M610.4,596.2 v-3.5 M679.3,412.4 v3.5 M679.3,596.2 v-3.5 M748.0,412.4 v3.5 M748.0,596.2 v-3.5 M792.3,436.4 h-4.2 M792.3,485.4 h-4.2 M792.3,533.7 h-4.2 M792.3,579.3 h-4.2 M792.3,595.8 h-4.2" stroke="#000" stroke-width="1.4" fill="none"/>
<text transform="translate(506.05,447.40) scale(0.8507,1.0102)" font-size="28" font-weight="bold" fill="#000">0.065</text>
<text transform="translate(519.04,496.80) scale(0.8594,1.0153)" font-size="28" font-weight="bold" fill="#000">0.06</text>
<text transform="translate(506.05,545.80) scale(0.8507,1.0102)" font-size="28" font-weight="bold" fill="#000">0.055</text>
<text transform="translate(519.04,590.40) scale(0.8549,1.0153)" font-size="28" font-weight="bold" fill="#000">0.05</text>
<g transform="translate(587.37,629.20) scale(0.8340,1.0352)">
<text font-size="28" font-weight="bold" fill="#000">1.15</text>
<path d="M1.19,-3.12 H6.51 V0.56 H1.19 Z M10.36,-3.12 H15.33 V0.56 H10.36 Z M24.54,-3.12 H29.86 V0.56 H24.54 Z M33.71,-3.12 H38.68 V0.56 H33.71 Z" fill="#fff"/>
</g>
<g transform="translate(661.98,629.20) scale(0.8259,1.0204)">
<text font-size="28" font-weight="bold" fill="#000">1.2</text>
<path d="M1.19,-3.12 H6.51 V0.56 H1.19 Z M10.36,-3.12 H15.33 V0.56 H10.36 Z" fill="#fff"/>
</g>
<g transform="translate(724.24,629.20) scale(0.8494,1.0204)">
<text font-size="28" font-weight="bold" fill="#000">1.25</text>
<path d="M1.19,-3.12 H6.51 V0.56 H1.19 Z M10.36,-3.12 H15.33 V0.56 H10.36 Z" fill="#fff"/>
</g>
</svg>
</body></html>
